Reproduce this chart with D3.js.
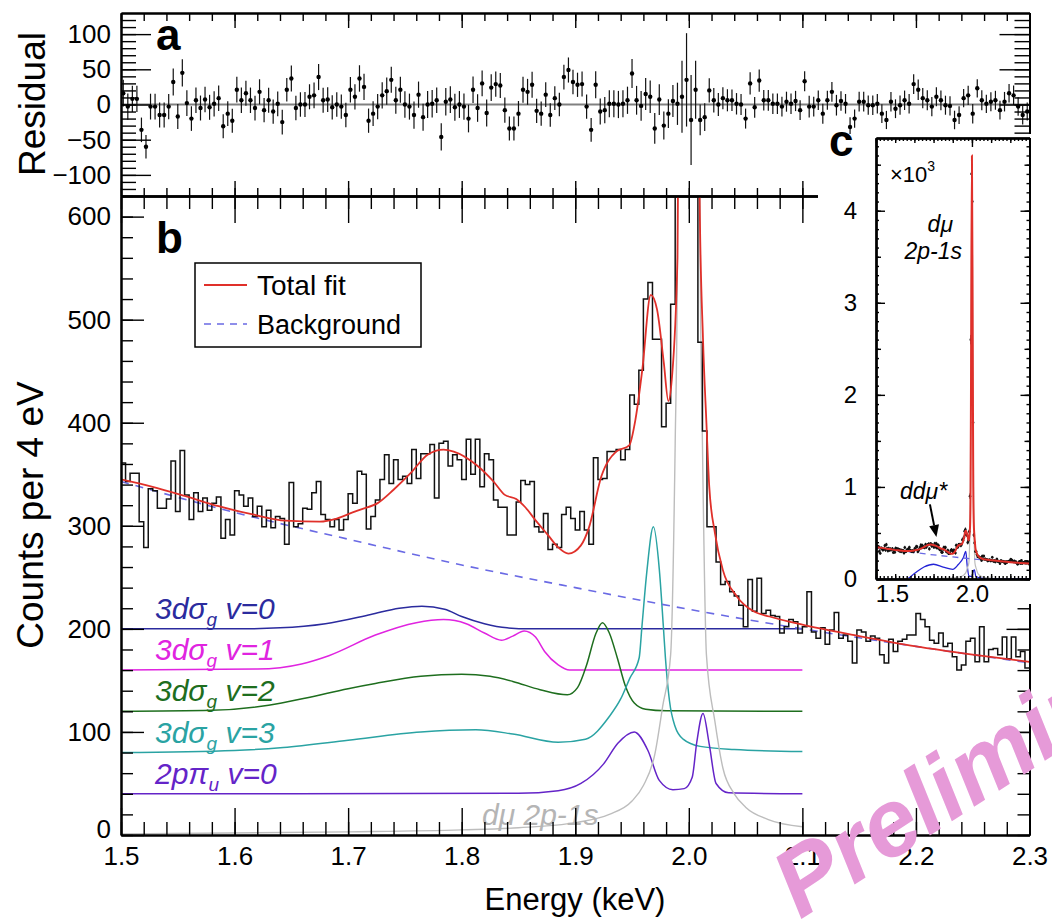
<!DOCTYPE html>
<html>
<head>
<meta charset="utf-8">
<script src="https://cdn.jsdelivr.net/npm/d3@7"></script>
<style>
  body { margin: 0; background: #fff; }
  svg text { font-family: "Liberation Sans", Arial, Helvetica, sans-serif; }
</style>
</head>
<body>
<div id="chart"></div>
<script>
// DATA
var binWidth = 0.004; // keV -> counts per 4 eV

var counts = [
  361,343,351,351,304,279,336,334,317,317,
  326,363,314,373,330,306,332,314,327,315,
  322,328,288,306,291,334,330,319,327,309,
  319,299,315,298,309,307,282,342,299,302,
  317,316,332,343,311,306,299,306,296,306,
  331,322,353,350,297,309,325,345,369,341,
  364,345,348,341,374,346,370,370,379,327,
  380,382,358,369,364,345,384,350,384,338,
  370,364,325,318,318,291,291,323,344,340,
  343,299,294,312,277,282,279,311,318,307,
  296,314,296,282,366,345,346,372,372,374,
  364,374,427,418,451,520,536,481,481,396,
  419,515,900,2600,4400,4100,1700,478,392,299,
  299,265,243,246,236,232,223,202,248,217,
  249,215,218,213,212,196,202,209,207,196,
  202,236,197,191,201,185,199,216,191,194,
  188,167,199,197,188,193,191,175,167,190,
  178,188,190,194,194,215,209,202,189,186,
  196,183,186,173,160,165,188,191,168,202,
  168,180,181,175,192,171,192,173,178,162
];

var residuals = [
  16,-3,8,8,-36,-60,-3,-3,-15,-15,
  -3,32,-17,45,2,-20,6,-5,7,-4,
  1,9,-31,-13,-23,21,6,16,6,-5,
  18,-8,6,-10,1,-25,21,37,-5,0,
  0,11,13,39,6,7,-4,0,-3,-15,
  21,11,37,25,-23,-13,-3,13,19,35,
  6,21,0,-3,-15,14,-18,0,1,6,
  -46,4,7,-4,0,-3,-20,21,-5,30,
  -12,24,29,27,-8,-34,-34,-13,21,18,
  28,-9,-13,14,-15,9,0,39,49,32,
  28,29,-3,-36,28,-10,-8,1,1,0,
  1,6,44,6,-2,15,11,-34,7,-30,
  -13,5,1,11,35,-22,21,-22,-18,20,
  6,0,9,6,6,1,0,-20,30,-4,
  34,6,6,1,1,-3,4,1,5,-8,
  33,-3,-3,6,-13,6,18,-1,5,1,
  -32,-20,4,4,-1,-1,1,-13,-22,4,
  -6,-1,6,1,29,21,9,6,-3,11,
  6,-1,-2,-22,-15,9,13,-13,23,6,
  1,4,6,-8,4,16,13,-3,-15,-10
];

var totalFit = [
  [1.50,345],[1.527,338],[1.556,329],[1.586,319],[1.616,311],[1.645,305],[1.675,304],
  [1.69,307],[1.704,313],[1.7115,316],[1.726,322],[1.74,335],[1.755,351],[1.77,369],
  [1.784,374],[1.793,372],[1.813,359],[1.828,343],[1.838,330],[1.848,326],[1.856,318],
  [1.866,304],[1.876,291],[1.885,279],[1.894,273],[1.905,281],[1.912,298],[1.923,348],
  [1.936,372],[1.9475,378],[1.953,403],[1.959,451],[1.9665,524],[1.972,510],[1.978,458],
  [1.982,421],[1.985,442],[1.99,560],[1.993,1000],[1.996,2600],[2.0,4600],[2.004,2600],
  [2.007,1000],[2.0095,620],[2.0125,481],[2.0155,400],[2.018,338],[2.023,293],[2.03,257],
  [2.042,232],[2.057,217],[2.071,212],[2.1,204],[2.15,193],[2.2,183],[2.25,175],[2.3,168]
];

var background = [
  [1.5,343],[1.6,313],[1.7,287],[1.8,262],[1.9,240],[2.0,219],[2.1,200],[2.2,183],[2.3,167]
];

var comp3dV0 = [
  [1.5,200],[1.6,200],[1.64,201],[1.68,205],[1.72,214],[1.745,220],[1.765,222],
  [1.785,219],[1.80,212],[1.82,205],[1.84,201],[1.86,200],[2.1,200]
];
var comp3dV1 = [
  [1.5,160],[1.62,161],[1.659,166],[1.683,174],[1.724,194],[1.76,206],[1.784,209],
  [1.804,205],[1.82,196],[1.835,189],[1.845,193],[1.855,198],[1.865,192],[1.873,178],
  [1.885,165],[1.895,160],[2.1,160]
];
var comp3dV2 = [
  [1.5,120],[1.58,121],[1.63,126],[1.663,133],[1.70,142],[1.724,147],[1.764,154],
  [1.80,156],[1.825,154],[1.845,149],[1.869,141],[1.893,136],[1.902,143],[1.91,165],
  [1.918,195],[1.924,206],[1.93,196],[1.937,172],[1.944,145],[1.952,128],[1.962,122],
  [1.98,120.5],[2.1,120]
];
var comp3dV3 = [
  [1.5,80],[1.6,82],[1.643,85],[1.7,92],[1.764,100],[1.8125,102],[1.845,98],[1.885,90],
  [1.909,93],[1.93,115],[1.94,132],[1.948,152],[1.9563,172],[1.9587,202],[1.963,255],
  [1.9688,299],[1.974,258],[1.9776,202],[1.9794,172],[1.983,130],[1.988,105],
  [1.995,93],[2.01,86],[2.04,83],[2.1,81]
];
var comp2pPi = [
  [1.5,40],[1.85,40.5],[1.885,43],[1.905,50],[1.925,69],[1.9375,89],[1.952,100],
  [1.964,82],[1.974,53],[1.986,44],[1.996,45],[2.003,56],[2.007,90],[2.0125,118],
  [2.018,88],[2.024,50],[2.035,41],[2.1,40]
];
var dmuLine = [
  [1.5,1],[1.7,3],[1.8,5],[1.85,7],[1.9,12],[1.93,20],[1.95,33],[1.96,48],[1.97,78],
  [1.977,125],[1.984,175],[1.988,380],[1.990,560],[1.993,1500],[2.0,4500],[2.007,1500],
  [2.010,560],[2.012,380],[2.0155,175],[2.023,110],[2.03,65],[2.04,40],[2.05,27],
  [2.07,15],[2.1,8]
];
// sum of molecular components shown in the inset
var insetComponents = [
  [1.5,0],[1.66,0],[1.70,60],[1.75,130],[1.80,160],[1.85,130],[1.90,105],[1.93,160],
  [1.955,230],[1.968,300],[1.975,150],[1.985,30],[2.0,25],[2.008,90],[2.013,100],
  [2.02,30],[2.05,8],[2.1,0],[2.3,0]
];

var energyTicks = [1.5, 1.6, 1.7, 1.8, 1.9, 2.0, 2.1, 2.2, 2.3];
var countTicks = [0, 100, 200, 300, 400, 500, 600];
var residualTicks = [-100, -50, 0, 50, 100];
var insetCountTicks = [0, 1000, 2000, 3000, 4000];
var insetEnergyTicks = [1.5, 2.0];

var components = [
  {name: "3dσ", sub: "g", rest: " v=0", data: comp3dV0, base: 200, color: "#2b2b9e"},
  {name: "3dσ", sub: "g", rest: " v=1", data: comp3dV1, base: 160, color: "#e024e0"},
  {name: "3dσ", sub: "g", rest: " v=2", data: comp3dV2, base: 120, color: "#1e6e1e"},
  {name: "3dσ", sub: "g", rest: " v=3", data: comp3dV3, base: 80, color: "#2aa3a3"},
  {name: "2pπ", sub: "u", rest: " v=0", data: comp2pPi, base: 40, color: "#6424c8"}
];

var RED = "#e0302a", BKG = "#6a6ae4";

// SVG
var svgWidth = 1052, svgHeight = 922;
var svg = d3.select("#chart").append("svg")
  .attr("width", svgWidth)
  .attr("height", svgHeight);

var x = d3.scaleLinear().domain([1.5, 2.3]).range([121, 1029.5]);
var yRes = d3.scaleLinear().domain([-130, 130]).range([196, 13]);
var yCnt = d3.scaleLinear().domain([0, 620]).range([835, 196]);

var binLow = counts.map(function(c, i) { return 1.5 + i * binWidth; });

// axis helper: inward ticks like ROOT
function drawAxis(axisMaker, scale, transform, values, size, fmt, pad, fontSize) {
  var a = axisMaker(scale)
    .tickValues(values)
    .tickSize(-size)
    .tickSizeOuter(0)
    .tickPadding(pad || 3)
    .tickFormat(fmt || function() { return ""; });
  var g = svg.append("g").attr("transform", transform).call(a);
  g.attr("font-size", fontSize || 26).attr("font-family", null);
  g.selectAll(".tick line").attr("stroke-width", 1.4);
  g.select(".domain").attr("stroke-width", 2);
  g.selectAll(".tick text").attr("fill", "#000");
  return g;
}

var fmtMinus = function(d) { return d < 0 ? "\u2212" + Math.abs(d) : String(d); };
var eMinor = d3.range(1.5, 2.3001, 0.02);

// ---------- panel a : residuals ----------
svg.append("line")
  .attr("x1", x(1.5)).attr("x2", x(2.3))
  .attr("y1", yRes(0)).attr("y2", yRes(0))
  .attr("stroke", "#808080").attr("stroke-width", 2);

var resGroup = svg.append("g");
resGroup.selectAll("line.err").data(residuals).enter().append("line")
  .attr("x1", function(d, i) { return x(binLow[i] + binWidth / 2); })
  .attr("x2", function(d, i) { return x(binLow[i] + binWidth / 2); })
  .attr("y1", function(d, i) { return yRes(Math.min(130, d + Math.sqrt(counts[i]))); })
  .attr("y2", function(d, i) { return yRes(Math.max(-130, d - Math.sqrt(counts[i]))); })
  .attr("stroke", "#111").attr("stroke-width", 1.2);
resGroup.selectAll("circle").data(residuals).enter().append("circle")
  .attr("cx", function(d, i) { return x(binLow[i] + binWidth / 2); })
  .attr("cy", function(d) { return yRes(d); })
  .attr("r", 2.2).attr("fill", "#000");

drawAxis(d3.axisTop, x, "translate(0,13)", eMinor, 8);
drawAxis(d3.axisTop, x, "translate(0,13)", energyTicks, 15);
drawAxis(d3.axisBottom, x, "translate(0,196)", eMinor, 8);
drawAxis(d3.axisBottom, x, "translate(0,196)", energyTicks, 15);
drawAxis(d3.axisLeft, yRes, "translate(121,0)", d3.range(-120, 121, 10), 15);
drawAxis(d3.axisLeft, yRes, "translate(121,0)", residualTicks, 30, fmtMinus, 10);
drawAxis(d3.axisRight, yRes, "translate(1029.5,0)", d3.range(-120, 121, 10), 15);
drawAxis(d3.axisRight, yRes, "translate(1029.5,0)", residualTicks, 30);

// ---------- panel b : spectrum ----------
svg.append("clipPath").attr("id", "clipB").append("rect")
  .attr("x", 121).attr("y", 196).attr("width", 1029.5 - 121).attr("height", 835 - 196);
var plotB = svg.append("g").attr("clip-path", "url(#clipB)");

var lineB = d3.line()
  .x(function(d) { return x(d[0]); })
  .y(function(d) { return yCnt(d[1]); })
  .curve(d3.curveMonotoneX);

components.forEach(function(c) {
  plotB.append("path").datum(c.data)
    .attr("d", lineB).attr("fill", "none")
    .attr("stroke", c.color).attr("stroke-width", 1.5);
});

plotB.append("path").datum(dmuLine)
  .attr("d", lineB).attr("fill", "none")
  .attr("stroke", "#bdbdbd").attr("stroke-width", 1.4);

plotB.append("path").datum(background)
  .attr("d", lineB).attr("fill", "none")
  .attr("stroke", BKG).attr("stroke-width", 1.6)
  .attr("stroke-dasharray", "8,7");

var histPts = counts.map(function(c, i) { return [binLow[i], c]; });
histPts.push([2.3, counts[counts.length - 1]]);
plotB.append("path").datum(histPts)
  .attr("d", d3.line()
    .x(function(d) { return x(d[0]); })
    .y(function(d) { return yCnt(d[1]); })
    .curve(d3.curveStepAfter))
  .attr("fill", "none").attr("stroke", "#111").attr("stroke-width", 1.5);

plotB.append("path").datum(totalFit)
  .attr("d", lineB).attr("fill", "none")
  .attr("stroke", RED).attr("stroke-width", 1.8);

// component labels
components.forEach(function(c) {
  var t = svg.append("text")
    .attr("x", 155).attr("y", yCnt(c.base) - 10)
    .attr("fill", c.color).attr("font-size", 30).attr("font-style", "italic");
  t.append("tspan").text(c.name);
  t.append("tspan").attr("font-size", 19).attr("dy", 7).text(c.sub);
  t.append("tspan").attr("dy", -7).text(c.rest);
});
svg.append("text")
  .attr("x", 482).attr("y", 825)
  .attr("fill", "#b5b5b5").attr("font-size", 30).attr("font-style", "italic")
  .text("dμ 2p-1s");

// legend
var legend = svg.append("g");
legend.append("rect").attr("x", 195).attr("y", 263).attr("width", 226).attr("height", 84)
  .attr("fill", "#fff").attr("stroke", "#000").attr("stroke-width", 1.5);
legend.append("line").attr("x1", 204).attr("x2", 247).attr("y1", 285).attr("y2", 285)
  .attr("stroke", RED).attr("stroke-width", 1.8);
legend.append("text").attr("x", 257).attr("y", 295).attr("font-size", 28).text("Total fit");
legend.append("line").attr("x1", 204).attr("x2", 247).attr("y1", 324).attr("y2", 324)
  .attr("stroke", BKG).attr("stroke-width", 1.6).attr("stroke-dasharray", "7,6");
legend.append("text").attr("x", 257).attr("y", 334).attr("font-size", 27).text("Background");

drawAxis(d3.axisBottom, x, "translate(0,835)", eMinor, 13);
drawAxis(d3.axisBottom, x, "translate(0,835)", energyTicks, 27, d3.format(".1f"), 12);
drawAxis(d3.axisTop, x, "translate(0,196)", eMinor, 13);
drawAxis(d3.axisTop, x, "translate(0,196)", energyTicks, 27);
drawAxis(d3.axisLeft, yCnt, "translate(121,0)", d3.range(0, 621, 20), 12);
var yl = drawAxis(d3.axisLeft, yCnt, "translate(121,0)", countTicks, 23, d3.format("d"), 10);
yl.selectAll(".tick text").attr("dy", function(d) { return d === 0 ? "0.1em" : "0.32em"; });
drawAxis(d3.axisRight, yCnt, "translate(1029.5,0)", d3.range(0, 621, 20), 12);
drawAxis(d3.axisRight, yCnt, "translate(1029.5,0)", countTicks, 23);

// ---------- inset c ----------
svg.append("rect").attr("x", 818).attr("y", 134).attr("width", 214).attr("height", 470)
  .attr("fill", "#fff");

var ix = d3.scaleLinear().domain([1.5, 2.3]).range([876, 1029.5]);
var iy = d3.scaleLinear().domain([0, 4790]).range([579, 138]);

svg.append("clipPath").attr("id", "clipC").append("rect")
  .attr("x", 876).attr("y", 138).attr("width", 1029.5 - 876).attr("height", 579 - 138);
var plotC = svg.append("g").attr("clip-path", "url(#clipC)");

var lineC = d3.line()
  .x(function(d) { return ix(d[0]); })
  .y(function(d) { return iy(d[1]); })
  .curve(d3.curveMonotoneX);

plotC.append("path").datum(insetComponents).attr("d", lineC).attr("fill", "none")
  .attr("stroke", "#2323d6").attr("stroke-width", 1.3);
plotC.append("path").datum(dmuLine).attr("d", lineC).attr("fill", "none")
  .attr("stroke", "#bdbdbd").attr("stroke-width", 1.2);
plotC.append("path").datum(background).attr("d", lineC).attr("fill", "none")
  .attr("stroke", BKG).attr("stroke-width", 1.3).attr("stroke-dasharray", "6,5");

plotC.selectAll("line.ierr").data(counts).enter().append("line")
  .attr("x1", function(d, i) { return ix(binLow[i] + binWidth / 2); })
  .attr("x2", function(d, i) { return ix(binLow[i] + binWidth / 2); })
  .attr("y1", function(d) { return iy(d + Math.sqrt(d)); })
  .attr("y2", function(d) { return iy(d - Math.sqrt(d)); })
  .attr("stroke", "#111").attr("stroke-width", 1);
plotC.selectAll("circle").data(counts).enter().append("circle")
  .attr("cx", function(d, i) { return ix(binLow[i] + binWidth / 2); })
  .attr("cy", function(d) { return iy(d); })
  .attr("r", 1.3).attr("fill", "#111");

plotC.append("path").datum(totalFit).attr("d", lineC).attr("fill", "none")
  .attr("stroke", RED).attr("stroke-width", 2);

var iMinorE = d3.range(1.5, 2.3001, 0.02);
var iMidE = d3.range(1.5, 2.3001, 0.1);
var iMinorC = d3.range(0, 4791, 100);
var iMidC = d3.range(0, 4791, 500);
drawAxis(d3.axisBottom, ix, "translate(0,579)", iMinorE, 3);
drawAxis(d3.axisBottom, ix, "translate(0,579)", iMidE, 5);
var ib = drawAxis(d3.axisBottom, ix, "translate(0,579)", insetEnergyTicks, 9, d3.format(".1f"), 6, 24);
ib.selectAll(".tick text").attr("dx", function(d) { return d === 1.5 ? 16 : 0; });
drawAxis(d3.axisTop, ix, "translate(0,138)", iMinorE, 3);
drawAxis(d3.axisTop, ix, "translate(0,138)", iMidE, 5);
drawAxis(d3.axisTop, ix, "translate(0,138)", insetEnergyTicks, 9);
drawAxis(d3.axisLeft, iy, "translate(876,0)", iMinorC, 3);
drawAxis(d3.axisLeft, iy, "translate(876,0)", iMidC, 5);
drawAxis(d3.axisLeft, iy, "translate(876,0)", insetCountTicks, 9, function(d) { return d / 1000; }, 19, 24);
drawAxis(d3.axisRight, iy, "translate(1029.5,0)", iMinorC, 3);
drawAxis(d3.axisRight, iy, "translate(1029.5,0)", iMidC, 5);
drawAxis(d3.axisRight, iy, "translate(1029.5,0)", insetCountTicks, 9);

var x10 = svg.append("text").attr("x", 890).attr("y", 182).attr("font-size", 22);
x10.append("tspan").text("×10");
x10.append("tspan").attr("font-size", 14).attr("dy", -11).text("3");

svg.append("text").attr("x", 953).attr("y", 232).attr("text-anchor", "end")
  .attr("font-size", 23).attr("font-style", "italic").text("dμ");
svg.append("text").attr("x", 962).attr("y", 259).attr("text-anchor", "end")
  .attr("font-size", 23).attr("font-style", "italic").text("2p-1s");
svg.append("text").attr("x", 900).attr("y", 499)
  .attr("font-size", 23).attr("font-style", "italic").text("ddμ*");

// arrow pointing at the ddμ* bump
var tail = [ix(1.781), iy(810)], tip = [ix(1.815), iy(455)];
var dx = tip[0] - tail[0], dy = tip[1] - tail[1], len = Math.sqrt(dx * dx + dy * dy);
var ux = dx / len, uy = dy / len, head = 12, half = 5;
var bx = tip[0] - ux * head, by = tip[1] - uy * head;
svg.append("line").attr("x1", tail[0]).attr("y1", tail[1]).attr("x2", bx).attr("y2", by)
  .attr("stroke", "#000").attr("stroke-width", 2);
svg.append("polygon")
  .attr("points", [tip, [bx + uy * half, by - ux * half], [bx - uy * half, by + ux * half]]
    .map(function(p) { return p.join(","); }).join(" "))
  .attr("fill", "#000");

// ---------- titles / panel letters ----------
svg.append("text").attr("transform", "translate(45,104) rotate(-90)")
  .attr("text-anchor", "middle").attr("font-size", 37).text("Residual");
svg.append("text").attr("transform", "translate(43,515) rotate(-90)")
  .attr("text-anchor", "middle").attr("font-size", 37).text("Counts per 4 eV");
svg.append("text").attr("x", 575).attr("y", 910)
  .attr("text-anchor", "middle").attr("font-size", 31).text("Energy (keV)");

svg.append("text").attr("x", 156).attr("y", 50).attr("font-size", 44).attr("font-weight", "bold").text("a");
svg.append("text").attr("x", 156).attr("y", 253).attr("font-size", 44).attr("font-weight", "bold").text("b");
svg.append("text").attr("x", 829).attr("y", 156).attr("font-size", 44).attr("font-weight", "bold").text("c");

// watermark
svg.append("text")
  .attr("transform", "translate(800,920) rotate(-33)")
  .attr("font-size", 95).attr("font-weight", "bold").attr("font-style", "italic")
  .attr("fill", "#e69ad8")
  .text("Preliminary");
</script>
</body>
</html>
